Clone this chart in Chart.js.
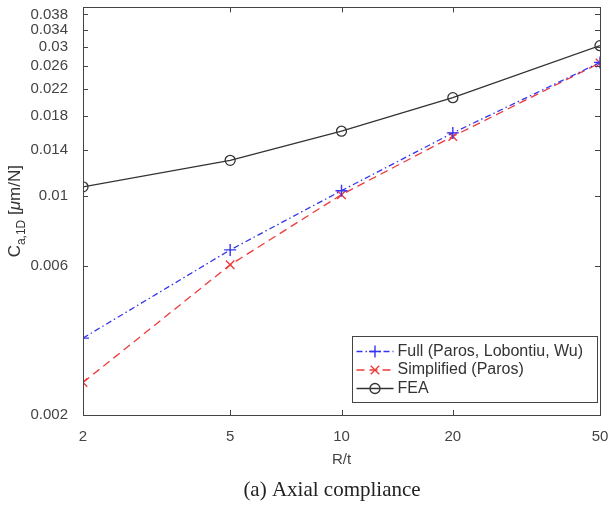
<!DOCTYPE html>
<html><head><meta charset="utf-8">
<script src="https://cdn.jsdelivr.net/npm/chart.js@4.4.0/dist/chart.umd.min.js"></script>
<style>html,body{margin:0;padding:0;background:#fff;overflow:hidden}</style>
</head><body>
<canvas id="c" width="610" height="507"></canvas>
<script>
const ratios = [2, 5, 10, 20, 50];
const fullModel = [0.00352, 0.00673, 0.0104, 0.0159, 0.0267];
const simplifiedModel = [0.00254, 0.00603, 0.0101, 0.0155, 0.0266];
const feaValues = [0.0107, 0.0130, 0.0161, 0.0206, 0.0302];
const xTicks = [2, 5, 10, 20, 50];
const yTicks = [0.002, 0.006, 0.01, 0.014, 0.018, 0.022, 0.026, 0.03, 0.034, 0.038];
const yTickLabels = ['0.002', '0.006', '0.01', '0.014', '0.018', '0.022', '0.026', '0.03', '0.034', '0.038'];
const seriesNames = ['Full (Paros, Lobontiu, Wu)', 'Simplified (Paros)', 'FEA'];
const xTitle = 'R/t';
const caption = '(a) Axial compliance';

const AX = '#444444';
const toPts = arr => ratios.map((r, i) => ({x: r, y: arr[i]}));

const framePlugin = {
  id: 'frame',
  afterDatasetsDraw(chart) {
    const {ctx, chartArea: a, scales} = chart;
    ctx.save();
    ctx.strokeStyle = AX; ctx.lineWidth = 1;
    ctx.strokeRect(Math.round(a.left) + 0.5, Math.round(a.top) + 0.5, Math.round(a.right - a.left), Math.round(a.bottom - a.top));
    const tl = 5;
    ctx.beginPath();
    xTicks.forEach(v => {
      const px = Math.round(scales.x.getPixelForValue(v)) + 0.5;
      ctx.moveTo(px, a.bottom); ctx.lineTo(px, a.bottom - tl);
      ctx.moveTo(px, a.top); ctx.lineTo(px, a.top + tl);
    });
    yTicks.forEach(v => {
      const py = Math.round(scales.y.getPixelForValue(v)) + 0.5;
      ctx.moveTo(a.left, py); ctx.lineTo(a.left + tl, py);
      ctx.moveTo(a.right, py); ctx.lineTo(a.right - tl, py);
    });
    ctx.stroke();

    // legend
    const lw = 245, lh = 66;
    const lx = Math.round(a.right - 3 - lw) + 0.5, ly = Math.round(a.bottom - 13 - lh) + 0.5;
    ctx.fillStyle = '#fff';
    ctx.fillRect(lx, ly, lw, lh);
    ctx.strokeStyle = AX;
    ctx.strokeRect(lx, ly, lw, lh);
    chart.data.datasets.forEach((ds, i) => {
      const cy = ly + 15 + i * 18.5;
      ctx.save();
      ctx.strokeStyle = ds.borderColor; ctx.lineWidth = ds.borderWidth;
      ctx.setLineDash(ds.borderDash || []);
      ctx.beginPath(); ctx.moveTo(lx + 4, cy); ctx.lineTo(lx + 41, cy); ctx.stroke();
      ctx.setLineDash([]);
      ctx.fillStyle = ds.pointBackgroundColor; ctx.strokeStyle = ds.borderColor;
      ctx.lineWidth = ds.pointBorderWidth;
      Chart.helpers.drawPoint(ctx, {pointStyle: ds.pointStyle, radius: ds.pointRadius, borderWidth: ds.pointBorderWidth, rotation: 0}, lx + 22.5, cy);
      ctx.restore();
      ctx.fillStyle = '#333';
      ctx.font = '16px "Liberation Sans", Arial, sans-serif';
      ctx.textBaseline = 'middle'; ctx.textAlign = 'left';
      ctx.fillText(ds.label, lx + 45, cy);
    });

    // y axis label with subscript
    ctx.save();
    const cy = (a.top + a.bottom) / 2;
    ctx.translate(20, cy);
    ctx.rotate(-Math.PI / 2);
    ctx.fillStyle = '#333';
    ctx.textBaseline = 'alphabetic'; ctx.textAlign = 'left';
    const big = '17px "Liberation Sans", Arial, sans-serif';
    const small = '12px "Liberation Sans", Arial, sans-serif';
    const ital = 'italic 17px "Liberation Sans", Arial, sans-serif';
    const parts = [[ 'C', big, 0 ], [ 'a,1D', small, 5 ], [ ' [', big, 0 ], [ '\u03bc', ital, 0 ], [ 'm/N]', big, 0 ]];
    let total = 0;
    parts.forEach(p => { ctx.font = p[1]; total += ctx.measureText(p[0]).width; });
    let x = -total / 2;
    parts.forEach(p => { ctx.font = p[1]; ctx.fillText(p[0], x, p[2]); x += ctx.measureText(p[0]).width; });
    ctx.restore();

    // caption
    ctx.fillStyle = '#222';
    ctx.font = '21px "Liberation Serif", "Times New Roman", serif';
    ctx.textAlign = 'center'; ctx.textBaseline = 'middle';
    ctx.fillText(caption, 332, 490);
    ctx.restore();
  }
};

new Chart(document.getElementById('c'), {
  type: 'line',
  data: {
    datasets: [
      { label: seriesNames[0], data: toPts(fullModel), borderColor: '#3535f2', backgroundColor: '#3535f2',
        borderWidth: 1.3, borderDash: [6, 3, 1.5, 3], pointStyle: 'cross', pointRadius: 6, pointBorderWidth: 1.4,
        pointBackgroundColor: '#3535f2', fill: false, tension: 0 },
      { label: seriesNames[1], data: toPts(simplifiedModel), borderColor: '#ee3b3b', backgroundColor: '#ee3b3b',
        borderWidth: 1.3, borderDash: [8, 5], pointStyle: 'crossRot', pointRadius: 6, pointBorderWidth: 1.4,
        pointBackgroundColor: '#ee3b3b', fill: false, tension: 0 },
      { label: seriesNames[2], data: toPts(feaValues), borderColor: '#333333', backgroundColor: '#ffffff',
        borderWidth: 1.3, pointStyle: 'circle', pointRadius: 5, pointBorderWidth: 1.3,
        pointBackgroundColor: 'rgba(255,255,255,0)', fill: false, tension: 0 }
    ]
  },
  options: {
    responsive: false,
    animation: false,
    layout: { padding: { top: 0, right: 10, bottom: 0, left: 0 } },
    plugins: { legend: { display: false }, tooltip: { enabled: false } },
    scales: {
      x: {
        type: 'logarithmic', min: 2, max: 50,
        afterBuildTicks: s => { s.ticks = xTicks.map(v => ({value: v})); },
        afterFit: s => { s.height = 92; s.paddingLeft = 0; s.paddingRight = 0; },
        grid: { display: false }, border: { display: false },
        ticks: { color: AX, padding: 5, font: { family: '"Liberation Sans", Arial, sans-serif', size: 15 },
                 callback: v => String(v), autoSkip: false, maxRotation: 0 },
        title: { display: true, text: xTitle, color: AX, font: { family: '"Liberation Sans", Arial, sans-serif', size: 15 },
                 padding: { top: 0, bottom: 38 } }
      },
      y: {
        type: 'logarithmic', min: 0.002, max: 0.04,
        afterBuildTicks: s => { s.ticks = yTicks.map(v => ({value: v})); },
        afterFit: s => { s.width = 83; s.paddingTop = 7; s.paddingBottom = 0; },
        grid: { display: false }, border: { display: false },
        ticks: { color: AX, padding: 7, font: { family: '"Liberation Sans", Arial, sans-serif', size: 15 },
                 callback: (v, i) => yTickLabels[i], autoSkip: false }
      }
    }
  },
  plugins: [framePlugin]
});
</script>
</body></html>
